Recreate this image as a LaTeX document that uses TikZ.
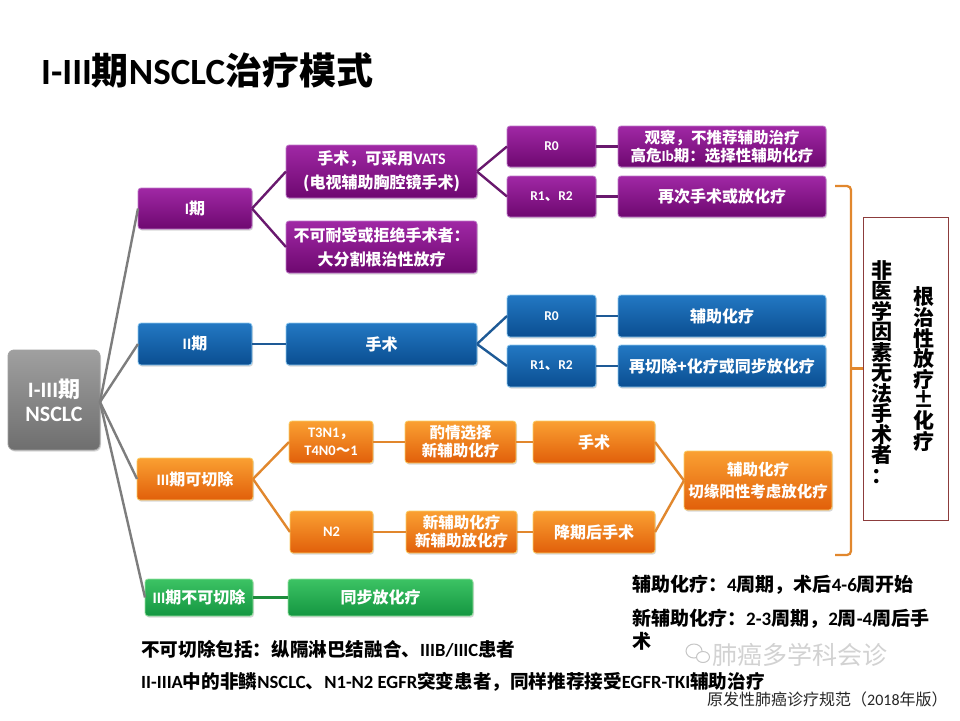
\documentclass[tikz,border=0pt]{standalone}
\usepackage{fontspec}
\setmainfont{Noto Sans CJK SC}
\newfontfamily\latf{Carlito}
\newcommand\la[1]{{\latf #1}}
\usetikzlibrary{shadows}
\definecolor{purT}{RGB}{160,40,165}
\definecolor{purB}{RGB}{110,8,112}
\definecolor{purL}{RGB}{190,120,200}
\definecolor{purC}{RGB}{105,25,110}
\definecolor{bluT}{RGB}{35,120,195}
\definecolor{bluB}{RGB}{10,78,145}
\definecolor{bluL}{RGB}{140,200,240}
\definecolor{bluC}{RGB}{30,90,150}
\definecolor{oraT}{RGB}{250,160,50}
\definecolor{oraB}{RGB}{225,95,10}
\definecolor{oraL}{RGB}{250,205,100}
\definecolor{oraC}{RGB}{225,135,45}
\definecolor{greT}{RGB}{60,195,100}
\definecolor{greB}{RGB}{20,150,65}
\definecolor{greL}{RGB}{150,225,160}
\definecolor{greC}{RGB}{30,140,60}
\definecolor{gryT}{RGB}{160,160,160}
\definecolor{gryB}{RGB}{110,110,110}
\definecolor{gryC}{RGB}{125,125,125}
\definecolor{brd}{RGB}{140,60,60}
\tikzset{
  box/.style={rounded corners=3pt, align=center, text=white, outer sep=0pt, inner sep=1pt,
    line width=0.8pt, font=\bfseries\fontsize{16}{19}\selectfont,
    drop shadow={shadow xshift=1pt, shadow yshift=-1.5pt, opacity=0.3}},
  pbox/.style={box, draw=purL, top color=purT, bottom color=purB},
  bbox/.style={box, draw=bluL, top color=bluT, bottom color=bluB},
  obox/.style={box, draw=oraL, top color=oraT, bottom color=oraB},
  gbox/.style={box, draw=greL, top color=greT, bottom color=greB},
  rootbox/.style={box, draw=gryT, top color=gryT, bottom color=gryB, rounded corners=6pt},
  small/.style={font=\bfseries\fontsize{13.5}{16}\selectfont},
  two/.style={font=\bfseries\fontsize{16}{24}\selectfont},
  twos/.style={font=\bfseries\fontsize{15.5}{18}\selectfont},
  conn/.style={line width=2.4pt},
  pl/.style={conn, draw=purC},
  bl/.style={conn, draw=bluC},
  ol/.style={conn, draw=oraC},
  gl/.style={conn, draw=greC},
  rl/.style={conn, draw=gryC},
  note/.style={anchor=west, inner sep=0pt, font=\bfseries\fontsize{18.6}{22}\selectfont},
}
\newcommand\bx[7]{\node[#1, minimum width={(#5-#3)*1pt}, minimum height={(#6-#4)*1pt}] (#2) at ({(#3+#5)/2},{(#4+#6)/2}) {#7};}
\begin{document}
\begin{tikzpicture}[x=1pt,y=-1pt]
\useasboundingbox (0,0) rectangle (960,720);
\fill[white] (0,0) rectangle (960,720);
% title
\node[anchor=west, inner sep=0pt, font=\bfseries\fontsize{37}{41}\selectfont] (title) at (41,70) {\la{I-III}期\la{NSCLC}治疗模式};
% root
\bx{rootbox, font=\bfseries\fontsize{22}{24}\selectfont}{root}{8}{350}{100}{450}{\la{I-III}期\\\la{NSCLC}}
% stage I
\bx{pbox}{s1}{138}{188}{252}{229}{\la{I}期}
\bx{pbox, two}{vats}{286}{145}{477}{198}{手术，可采用\la{VATS}\\(电视辅助胸腔镜手术)}
\bx{pbox, two}{refuse}{286}{221}{477}{273}{不可耐受或拒绝手术者：\\大分割根治性放疗}
\bx{pbox, small}{r0a}{507}{126}{596}{167}{\la{R0}}
\bx{pbox, small}{r12a}{507}{176}{596}{217}{\la{R1}、\la{R2}}
\bx{pbox, twos}{obs}{618}{126}{826}{167}{观察，不推荐辅助治疗\\高危\la{Ib}期：选择性辅助化疗}
\bx{pbox}{again}{618}{176}{826}{217}{再次手术或放化疗}
% stage II
\bx{bbox}{s2}{138}{323}{252}{365}{\la{II}期}
\bx{bbox}{surg2}{286}{323}{477}{365}{手术}
\bx{bbox, small}{r0b}{507}{295}{596}{337}{\la{R0}}
\bx{bbox, small}{r12b}{507}{345}{596}{387}{\la{R1}、\la{R2}}
\bx{bbox}{adj2}{618}{295}{826}{337}{辅助化疗}
\bx{bbox}{resec}{618}{345}{826}{387}{再切除+化疗或同步放化疗}
% stage III resectable
\bx{obox}{s3a}{137}{458}{253}{500}{\la{III}期可切除}
\bx{obox, font=\bfseries\fontsize{14.5}{18}\selectfont}{t3}{289}{421}{373}{463}{\la{T3N1}，\\\la{T4N0}～\la{1}}
\bx{obox, twos}{opt}{405}{421}{516}{463}{酌情选择\\新辅助化疗}
\bx{obox}{surg3}{533}{421}{655}{463}{手术}
\bx{obox, font=\bfseries\fontsize{14.5}{18}\selectfont}{n2}{290}{511}{373}{553}{\la{N2}}
\bx{obox, twos}{neo}{406}{511}{517}{553}{新辅助化疗\\新辅助放化疗}
\bx{obox}{down}{533}{511}{655}{553}{降期后手术}
\bx{obox, font=\bfseries\fontsize{15.5}{22}\selectfont}{adj3}{684}{451}{832}{510}{辅助化疗\\切缘阳性考虑放化疗}
% stage III unresectable
\bx{gbox}{s3b}{145}{579}{253}{616}{\la{III}期不可切除}
\bx{gbox}{chemo}{288}{579}{473}{616}{同步放化疗}
% right box
\node[draw=brd, line width=0.9pt, minimum width=85pt, minimum height=303pt, inner sep=0pt] (rbox) at (905.5,368.5) {};
\node[inner sep=0pt, align=center, font=\bfseries\fontsize{21}{20.5}\selectfont] (col1) at (882,372) {非\\医\\学\\因\\素\\无\\法\\手\\术\\者\\：};
\node[inner sep=0pt, align=center, font=\bfseries\fontsize{21}{20.6}\selectfont] (col2) at (924,369) {根\\治\\性\\放\\疗\\±\\化\\疗};
% bracket
\draw[line width=2.3pt, draw=oraC, rounded corners=4pt] (835,186) -- (851,186) -- (851,555) -- (835,555);
\coordinate (bk) at (851,368.5);
\draw[line width=2.3pt, draw=oraC] (bk) -- (rbox.west);
% connectors
\coordinate (rootout) at (100,402);
\draw[rl] (rootout) -- (s1.west);
\draw[rl] (rootout) -- (s2.west);
\draw[rl] (rootout) -- (s3a.west);
\draw[rl] (rootout) -- (s3b.west);
\draw[pl] (s1.east) -- (vats.west);
\draw[pl] (s1.east) -- (refuse.west);
\draw[pl] (vats.east) -- (r0a.west);
\draw[pl] (vats.east) -- (r12a.west);
\draw[pl] (r0a.east) -- (obs.west);
\draw[pl] (r12a.east) -- (again.west);
\draw[bl] (s2.east) -- (surg2.west);
\draw[bl] (surg2.east) -- (r0b.west);
\draw[bl] (surg2.east) -- (r12b.west);
\draw[bl] (r0b.east) -- (adj2.west);
\draw[bl] (r12b.east) -- (resec.west);
\draw[ol] (s3a.east) -- (t3.west);
\draw[ol] (s3a.east) -- (n2.west);
\draw[ol] (t3.east) -- (opt.west);
\draw[ol] (opt.east) -- (surg3.west);
\draw[ol] (n2.east) -- (neo.west);
\draw[ol] (neo.east) -- (down.west);
\draw[ol] (surg3.east) -- (adj3.west);
\draw[ol] (down.east) -- (adj3.west);
\draw[gl] (s3b.east) -- (chemo.west);
% notes
\node[note] (n1) at (141,649) {不可切除包括：纵隔淋巴结融合、\la{IIIB/IIIC}患者};
\node[note, font=\bfseries\fontsize{18.6}{22}\selectfont] (n2t) at (141,682) {\la{II-IIIA}中的非鳞\la{NSCLC}、\la{N1-N2 EGFR}突变患者，同样推荐接受\la{EGFR-TKI}辅助治疗};
\node[note, font=\bfseries\fontsize{19}{22}\selectfont] (n3) at (632,585) {辅助化疗：\la{4}周期，术后\la{4-6}周开始};
\node[note, align=left, font=\bfseries\fontsize{19}{23}\selectfont] (n4) at (632,630) {新辅助化疗：\la{2-3}周期，\la{2}周\la{-4}周后手\\术};
% watermark
\draw[gray!45, line width=1pt] (694,651) ellipse (8 and 7);
\draw[gray!45, line width=1pt, fill=white] (703,657) ellipse (6.5 and 5.5);
\node[anchor=west, inner sep=0pt, text=gray!35, font=\fontsize{25}{28}\selectfont] (wm) at (712,655) {肺癌多学科会诊};
\node[anchor=west, inner sep=0pt, text=black!85, font=\fontsize{16}{18}\selectfont] (src) at (707,699) {原发性肺癌诊疗规范（\la{2018}年版）};
\end{tikzpicture}
\end{document}
